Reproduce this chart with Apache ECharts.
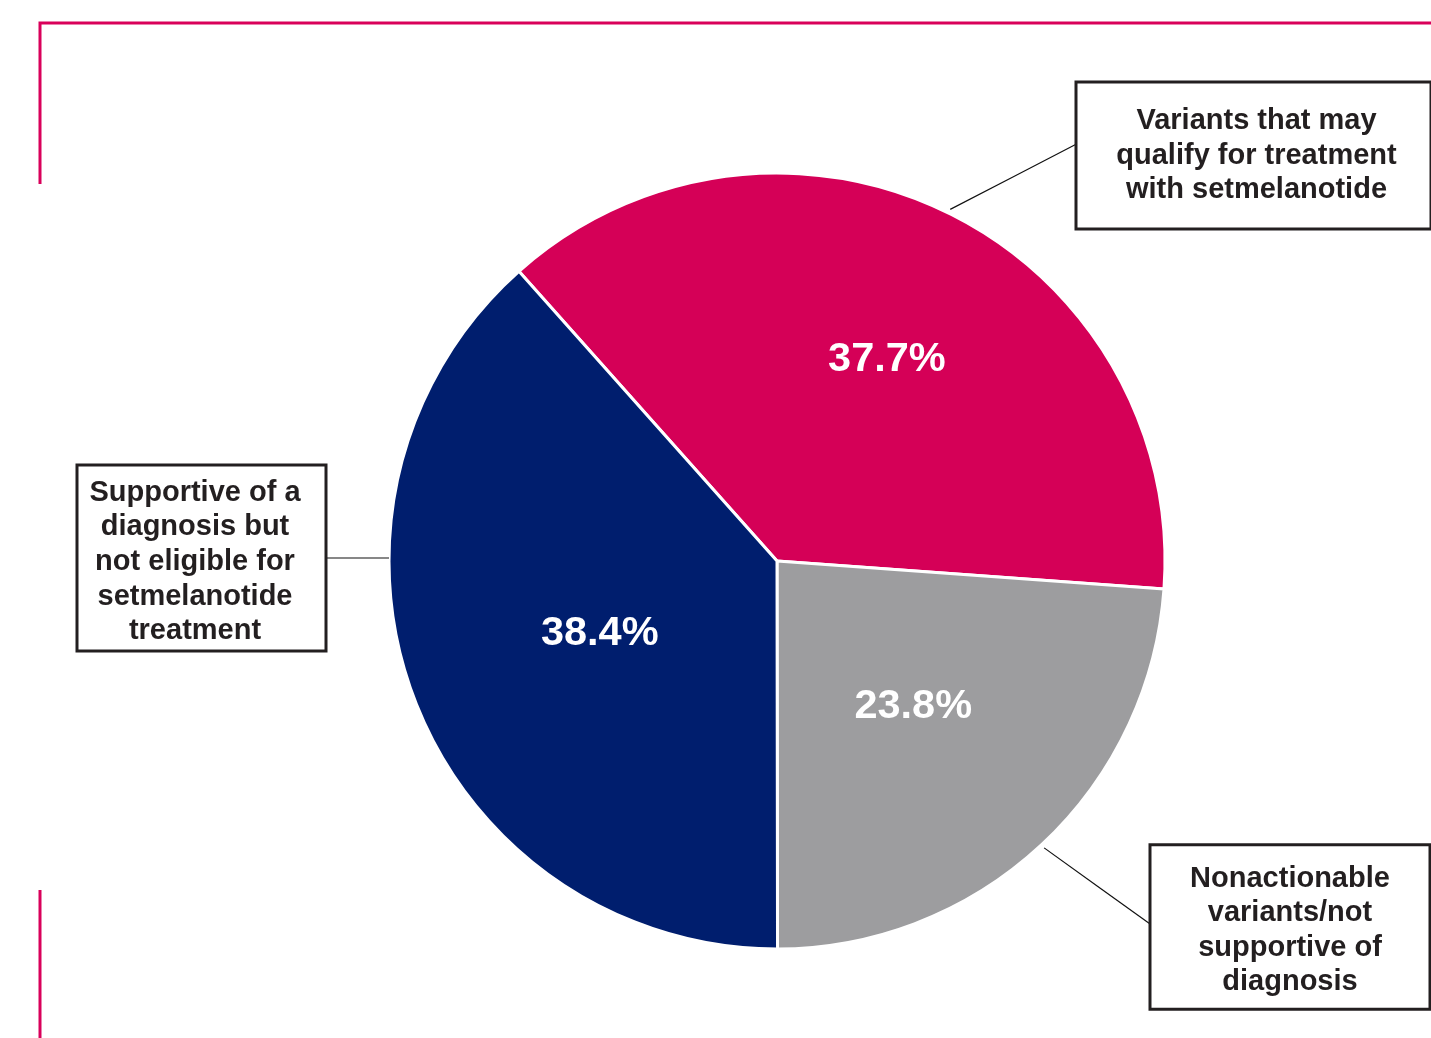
<!DOCTYPE html>
<html>
<head>
<meta charset="utf-8">
<style>html,body{margin:0;padding:0;background:#fff;}#c{width:1431px;height:1038px;}</style>
<script src="https://cdn.jsdelivr.net/npm/echarts@6/dist/echarts.min.js"></script>
</head>
<body>
<div id="c"></div>
<script>
// ---- data ----
const categories = [
  'Variants that may\nqualify for treatment\nwith setmelanotide',
  'Nonactionable\nvariants/not\nsupportive of\ndiagnosis',
  'Supportive of a\ndiagnosis but\nnot eligible for\nsetmelanotide\ntreatment'
];
const values = [37.7, 23.8, 38.4];
const colors = ['#D50057', '#9D9D9F', '#001E6E'];

// ---- layout ----
const CX = 777, CY = 561, R = 388, START = 131.7;
const LH = 34.6;
const FONT = "'Liberation Sans', Arial, Helvetica, sans-serif";
const total = values.reduce((a, b) => a + b, 0);
function midAngle(i) {
  let before = 0;
  for (let k = 0; k < i; k++) before += values[k];
  return (START - 360 * (before + values[i] / 2) / total) * Math.PI / 180;
}
const innerRadiusFrac = [0.6, 0.5, 0.5];
const innerShift = [[7, 7], [4, 4], [4, 3]];
const boxes = [
  { cx: 1253.5, cy: 155.5, w: 352, tw: 346, pad: [20, 0, 20, 6] },
  { cx: 1290, cy: 927, w: 277, tw: 277, pad: [15, 0, 8, 0] },
  { cx: 201.5, cy: 558, w: 246, tw: 233, pad: [9, 13, 1, 0] }
];

const chart = echarts.init(document.getElementById('c'), null, { renderer: 'canvas' });

const dataA = categories.map((n, i) => ({ name: n, value: values[i], itemStyle: { color: colors[i] } }));
const dataB = categories.map((n, i) => ({ name: n, value: values[i],
  label: { padding: boxes[i].pad, width: boxes[i].tw } }));

chart.setOption({
  backgroundColor: '#ffffff',
  animation: false,
  graphic: [
    { type: 'polyline', silent: true, shape: { points: [[40, 184], [40, 23], [1431, 23]] },
      style: { stroke: '#D9005A', lineWidth: 3, fill: null } },
    { type: 'line', silent: true, shape: { x1: 40, y1: 890, x2: 40, y2: 1038 },
      style: { stroke: '#D9005A', lineWidth: 3 } }
  ],
  series: [
    {
      type: 'pie',
      center: [CX, CY],
      radius: [0, R],
      startAngle: START,
      clockwise: true,
      avoidLabelOverlap: false,
      silent: true,
      itemStyle: { borderColor: '#ffffff', borderWidth: 3 },
      label: {
        show: true,
        position: 'inside',
        formatter: p => p.value.toFixed(1) + '%',
        color: '#ffffff',
        fontFamily: FONT,
        fontWeight: 'bold',
        fontSize: 41.5
      },
      labelLine: { show: false },
      labelLayout: function (p) {
        const i = p.dataIndex;
        const a = midAngle(i);
        const r = R * innerRadiusFrac[i];
        return { x: CX + r * Math.cos(a) + innerShift[i][0], y: CY - r * Math.sin(a) + innerShift[i][1],
          align: 'center', verticalAlign: 'middle' };
      },
      data: dataA
    },
    {
      type: 'pie',
      center: [CX, CY],
      radius: [0, R],
      startAngle: START,
      clockwise: true,
      avoidLabelOverlap: false,
      silent: true,
      z: 3,
      itemStyle: { color: 'rgba(0,0,0,0)', borderWidth: 0 },
      emphasis: { disabled: true },
      label: {
        show: true,
        position: 'outside',
        alignTo: 'none',
        overflow: 'none',
        formatter: p => p.name,
        color: '#231F20',
        fontFamily: FONT,
        fontWeight: 'bold',
        fontSize: 29,
        lineHeight: LH,
        align: 'center',
        backgroundColor: '#ffffff',
        borderColor: '#231F20',
        borderWidth: 3
      },
      labelLine: { show: true, length: 20, length2: 20, lineStyle: { color: '#111111', width: 1.2 } },
      labelLayout: function (p) {
        const i = p.dataIndex;
        const b = boxes[i];
        const a = midAngle(i);
        let pts;
        if (i === 2) {
          const y = b.cy;
          const x = CX - Math.sqrt(R * R - (y - CY) * (y - CY));
          const bx = b.cx + b.w / 2;
          pts = [[x, y], [(x + bx) / 2, y], [bx, y]];
        } else {
          const ax = CX + (R + 4) * Math.cos(a), ay = CY - (R + 4) * Math.sin(a);
          const bx = b.cx - b.w / 2;
          const by = i === 0 ? b.cy - 12 : b.cy - 2;
          pts = [[ax, ay], [(ax + bx) / 2, (ay + by) / 2], [bx, by]];
        }
        const nLines = categories[i].split('\n').length;
        const outerH = nLines * LH + b.pad[0] + b.pad[2];
        return {
          x: b.cx, y: b.cy - outerH / 2, align: 'center', verticalAlign: 'top',
          width: b.tw, labelLinePoints: pts
        };
      },
      data: dataB
    }
  ]
});
</script>
</body>
</html>
